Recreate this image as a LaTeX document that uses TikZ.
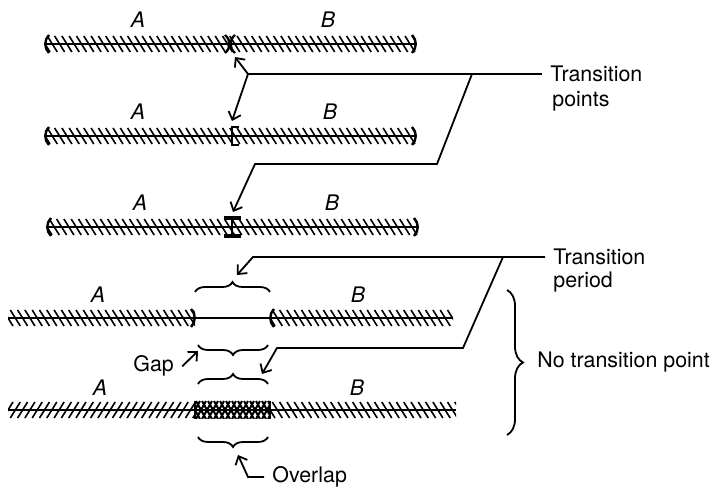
\documentclass[tikz,border=0pt]{standalone}
\usepackage{fontspec}
\setmainfont{TeX Gyre Heros}
\usetikzlibrary{arrows.meta,decorations.pathreplacing}
\tikzset{
  barline/.style={line width=1.4pt},
  hatchline/.style={line width=0.8pt},
  markline/.style={line width=1.2pt},
  conn/.style={line width=0.9pt},
  arr/.style={conn,-{Straight Barb[length=3.5pt,width=6.5pt]}},
  lbl/.style={font=\fontsize{10.7}{12}\selectfont, inner xsep=4pt, inner ysep=0pt},
  ablbl/.style={font=\fontsize{10.7}{12}\selectfont\itshape, inner sep=0pt},
  brc/.style={decorate,decoration={brace,amplitude=5pt},line width=0.9pt},
  bigbrc/.style={decorate,decoration={brace,amplitude=8pt},line width=0.9pt},
}
% backslash hatches: x0, x1, y
\newcommand{\hatchbs}[3]{%
  \begin{scope}
    \clip (#1,{#3-9}) rectangle (#2,{#3+9});
    \pgfmathtruncatemacro{\hn}{(#2-#1)/7.3+2}
    \foreach \k in {0,...,\hn}{%
      \draw[hatchline] ({#1+7.3*\k-5},{#3-8}) -- ({#1+7.3*\k+5},{#3+8});
    }
  \end{scope}}
% slash hatches: x0, x1, y
\newcommand{\hatchsl}[3]{%
  \begin{scope}
    \clip (#1,{#3-9}) rectangle (#2,{#3+9});
    \pgfmathtruncatemacro{\hn}{(#2-#1)/7.3+2}
    \foreach \k in {0,...,\hn}{%
      \draw[hatchline] ({#1+7.3*\k+5},{#3-8}) -- ({#1+7.3*\k-5},{#3+8});
    }
  \end{scope}}
% left paren end at x, y
\newcommand{\lparen}[2]{%
  \draw[markline] ({#1+4},{#2-9}) .. controls ({#1-1},{#2-4}) and ({#1-1},{#2+4}) .. ({#1+4},{#2+9});}
\newcommand{\rparen}[2]{%
  \draw[markline] ({#1-4},{#2-9}) .. controls ({#1+1},{#2-4}) and ({#1+1},{#2+4}) .. ({#1-4},{#2+9});}
\begin{document}
\begin{tikzpicture}[x=0.5pt,y=-0.5pt]
\useasboundingbox (0,0) rectangle (723,491);

% ---------- bar 1 ----------
\hatchbs{45}{416}{44}
\draw[barline] (45,44) -- (416,44);
\lparen{45}{44}\rparen{416}{44}
\draw[markline] (225,35) .. controls (231,40) and (231,48) .. (225,53);
\draw[markline] (235,35) .. controls (229,40) and (229,48) .. (235,53);
\node[ablbl] (a1) at (138,20) {A};
\node[ablbl] (b1) at (328,20) {B};

% ---------- bar 2 ----------
\hatchbs{45}{416}{136}
\draw[barline] (45,136) -- (416,136);
\lparen{45}{136}\rparen{416}{136}
\draw[markline] (239,127) -- (232,127) -- (232,145) -- (239,145);
\node[ablbl] (a2) at (138,112) {A};
\node[ablbl] (b2) at (330,112) {B};

% ---------- bar 3 ----------
\hatchbs{47}{418}{227}
\draw[barline] (47,227) -- (418,227);
\lparen{47}{227}\rparen{418}{227}
\draw[markline] (232,218) -- (232,236);
\draw[line width=1.6pt] (224,218) -- (241,218);
\draw[line width=1.6pt] (224,236) -- (241,236);
\node[ablbl] (a3) at (140,203) {A};
\node[ablbl] (b3) at (332,203) {B};

% ---------- bar 4 ----------
\hatchbs{8}{195}{318}
\hatchbs{270}{453}{318}
\draw[barline] (8,318) -- (453,318);
\rparen{195}{318}\lparen{270}{318}
\node[ablbl] (a4) at (98,295) {A};
\node[ablbl] (b4) at (358,295) {B};

% ---------- bar 5 ----------
\hatchsl{8}{195}{410}
\hatchbs{270}{456}{410}
\begin{scope}
  \clip (195,401) rectangle (270,419);
  \foreach \k in {0,...,14}{
    \draw[line width=1pt] ({195+6*\k-5},401) -- ({195+6*\k+5},419);
    \draw[line width=1pt] ({195+6*\k+5},401) -- ({195+6*\k-5},419);
  }
\end{scope}
\draw[markline] (195,401) -- (195,419);
\draw[markline] (270,401) -- (270,419);
\draw[barline] (8,410) -- (456,410);
\node[ablbl] (a5) at (100,388) {A};
\node[ablbl] (b5) at (357,388) {B};

% ---------- braces ----------
\draw[brc] (195,292) -- (270,292);
\draw[brc] (268,345) -- (198,345);
\draw[brc] (198,384) -- (268,384);
\draw[brc] (268,437) -- (198,437);
\draw[bigbrc] (507,290) -- (507,435);

% ---------- labels ----------
\node[lbl,anchor=west] (tp1) at (542,74) {Transition};
\node[lbl,anchor=base west] (tp2) at (544,107) {points};
\node[lbl,anchor=west] (tq1) at (545,257) {Transition};
\node[lbl,anchor=base west] (tq2) at (545,288) {period};
\node[lbl,anchor=west] (ntp) at (529,362) {No transition point};
\node[lbl,anchor=base west] (gap) at (125,372) {Gap};
\node[lbl,anchor=west] (ov) at (264,477) {Overlap};

% ---------- connectors ----------
\coordinate (J) at (248,74);
\coordinate (K) at (472,74);
\coordinate (L) at (503,257);
\draw[conn] (J) -- (tp1.west);
\draw[arr] (J) -- (235,57);
\draw[arr] (J) -- (232,121);
\draw[arr] (K) -- (437,164) -- (255,164) -- (233,212);
\draw[arr] (tq1.west) -- (253,257) -- (237,275);
\draw[arr] (L) -- (463,348) -- (277,348) -- (262,374);
\draw[arr] (gap.east) -- (198,351);
\draw[arr] (ov.west) -- (248,477) -- (238,455);
\end{tikzpicture}
\end{document}
